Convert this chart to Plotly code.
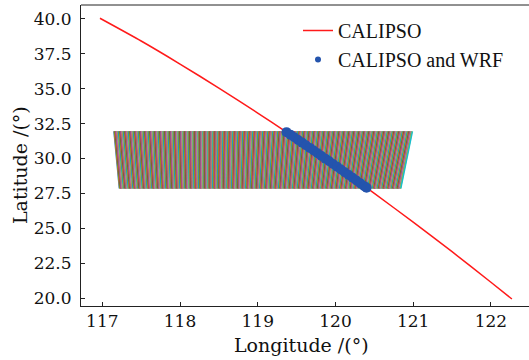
import plotly.graph_objects as go
import numpy as np

# CALIPSO ground track (lon, lat)
calipso_lon = [116.97, 117.50, 118.00, 118.50, 119.00, 119.37, 119.50, 120.00, 120.40, 120.50, 121.00, 121.50, 122.00, 122.27]
calipso_lat = [40.05, 38.42, 36.77, 35.05, 33.26, 31.89, 31.41, 29.49, 27.90, 27.50, 25.44, 23.32, 21.13, 19.93]

# CALIPSO points inside the WRF domain
match_lon = [119.37, 119.42, 119.47, 119.52, 119.57, 119.62, 119.67, 119.72, 119.77, 119.82, 119.87,
             119.92, 119.97, 120.02, 120.07, 120.12, 120.17, 120.22, 120.27, 120.32, 120.37, 120.40]
match_lat = [31.89, 31.71, 31.52, 31.33, 31.14, 30.95, 30.76, 30.57, 30.38, 30.18, 29.99,
             29.80, 29.60, 29.41, 29.21, 29.01, 28.82, 28.62, 28.42, 28.22, 28.02, 27.90]

# WRF grid extent (columns drawn as lines)
wrf_top_lon = [117.15, 120.99]
wrf_bottom_lon = [117.22, 120.84]
wrf_lat = [27.85, 31.95]
wrf_ncols = 600

x_ticks = [117, 118, 119, 120, 121, 122]
y_ticks = [20.0, 22.5, 25.0, 27.5, 30.0, 32.5, 35.0, 37.5, 40.0]

tab10 = ['#1f77b4', '#ff7f0e', '#2ca02c', '#d62728', '#9467bd',
         '#8c564b', '#e377c2', '#7f7f7f', '#bcbd22', '#17becf']

fig = go.Figure()

top_cols = np.linspace(wrf_top_lon[0], wrf_top_lon[1], wrf_ncols)
bot_cols = np.linspace(wrf_bottom_lon[0], wrf_bottom_lon[1], wrf_ncols)
for i in range(wrf_ncols):
    fig.add_trace(go.Scatter(x=[bot_cols[i], top_cols[i]], y=[wrf_lat[0], wrf_lat[1]],
                             mode='lines', line=dict(color=tab10[i % 10], width=1.5),
                             showlegend=False, hoverinfo='skip'))

fig.add_trace(go.Scatter(x=calipso_lon, y=calipso_lat, mode='lines',
                         line=dict(color='#ff1a1a', width=1.5, shape='spline', smoothing=0.6),
                         showlegend=False))
fig.add_trace(go.Scatter(x=match_lon, y=match_lat, mode='markers',
                         marker=dict(color='#2454ad', size=10), showlegend=False))

# legend entries
fig.add_trace(go.Scatter(x=[None], y=[None], mode='lines', name='CALIPSO',
                         line=dict(color='#ff1a1a', width=1.5)))
fig.add_trace(go.Scatter(x=[None], y=[None], mode='markers', name='CALIPSO and WRF',
                         marker=dict(color='#2454ad', size=6)))

L, T, R, B = 81, 5, 0, 54
W, H = 529, 360
pw, ph = W - L - R, H - T - B

axis_common = dict(showgrid=False, zeroline=False, showline=True, linecolor='#222',
                   linewidth=1, ticks='inside', ticklen=4, tickcolor='#222',
                   tickfont=dict(family='DejaVu Serif', size=17, color='#111'))

fig.update_xaxes(range=[116.726, 122.49], tickvals=x_ticks, ticktext=[str(v) for v in x_ticks],
                 ticklabelstandoff=0, **axis_common)
fig.update_yaxes(range=[19.43, 41.0], tickvals=y_ticks, ticktext=[f'{v:.1f}' for v in y_ticks],
                 ticklabelstandoff=5, **axis_common)

fig.add_shape(type='line', xref='paper', yref='paper', x0=0, x1=1, y0=1, y1=1,
              line=dict(color='#222', width=1))

fig.add_annotation(text='Longitude /(°)', xref='paper', yref='paper',
                   x=(301 - L) / pw, y=1 - (345 - T) / ph, xanchor='center', yanchor='middle',
                   showarrow=False, font=dict(family='DejaVu Serif', size=19, color='#111'))
fig.add_annotation(text='Latitude /(°)', xref='paper', yref='paper', textangle=-90,
                   x=(20 - L) / pw, y=1 - (165 - T) / ph, xanchor='center', yanchor='middle',
                   showarrow=False, font=dict(family='DejaVu Serif', size=19, color='#111'))

fig.update_layout(
    width=W, height=H,
    margin=dict(l=L, r=R, t=T, b=B),
    paper_bgcolor='white', plot_bgcolor='white',
    legend=dict(x=(298 - L) / pw, y=1 - (11 - T) / ph, xanchor='left', yanchor='top',
                bgcolor='rgba(0,0,0,0)', font=dict(family='Liberation Serif', size=20, color='#111'),
                tracegroupgap=0),
)

fig.write_html('out.html')
